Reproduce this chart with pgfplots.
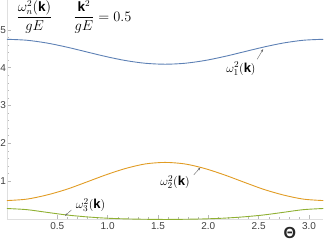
\documentclass[border=0pt]{standalone}
\usepackage{fontspec}
\setmainfont{Liberation Sans}
\usepackage{amsmath}
\usepackage{pgfplots}
\pgfplotsset{compat=1.18}
\usetikzlibrary{arrows.meta}
\definecolor{mblue}{rgb}{0.368417,0.506779,0.709798}
\definecolor{morange}{rgb}{0.880722,0.611041,0.142051}
\definecolor{mgreen}{rgb}{0.560181,0.691569,0.194885}
\begin{document}
\begin{tikzpicture}
\begin{axis}[
  scale only axis,
  width=316.3pt, height=218.7pt,
  xmin=0, xmax=3.14159, ymin=0, ymax=5.79,
  axis lines=left,
  axis line style={-, draw=gray!25},
  tick align=inside,
  major tick length=4pt, minor tick length=2pt,
  tick style={gray!55, line width=0.4pt},
  xtick={0.5,1.0,1.5,2.0,2.5,3.0},
  ytick={1,2,3,4,5},
  minor x tick num=4, minor y tick num=4,
  /pgf/number format/assume math mode=true,
  xticklabel={\pgfmathprintnumber[fixed,fixed zerofill,precision=1]{\tick}},
  ticklabel style={font=\fontsize{10}{11}\selectfont, text=black!75},
  xticklabel style={anchor=north, inner sep=0pt, yshift=-4pt},
  yticklabel style={anchor=east, inner sep=0pt, xshift=-0.8pt},
  clip=false,
]
\addplot[mblue, line width=0.9pt, smooth] coordinates {
(0,4.75) (0.19635,4.725) (0.39270,4.653) (0.58905,4.546) (0.78540,4.42)
(0.98175,4.294) (1.17810,4.187) (1.37445,4.115) (1.57080,4.09)
(1.76715,4.115) (1.96350,4.187) (2.15984,4.294) (2.35619,4.42)
(2.55254,4.546) (2.74889,4.653) (2.94524,4.725) (3.14159,4.75)};
\addplot[morange, line width=0.9pt, smooth] coordinates {
(0,0.48) (0.19635,0.518) (0.39270,0.625) (0.58905,0.775) (0.78540,0.965)
(0.98175,1.16) (1.17810,1.33) (1.37445,1.45) (1.57080,1.49)
(1.76715,1.45) (1.96350,1.33) (2.15984,1.16) (2.35619,0.965)
(2.55254,0.775) (2.74889,0.625) (2.94524,0.518) (3.14159,0.48)};
\addplot[mgreen, line width=0.9pt, smooth] coordinates {
(0,0.27) (0.19635,0.24) (0.39270,0.17) (0.58905,0.10) (0.78540,0.05)
(0.98175,0.015) (1.17810,-0.005) (1.37445,-0.015) (1.57080,-0.02)
(1.76715,-0.015) (1.96350,-0.005) (2.15984,0.015) (2.35619,0.05)
(2.55254,0.10) (2.74889,0.17) (2.94524,0.24) (3.14159,0.27)};
\node[font=\fontsize{13.5}{15}\selectfont, inner sep=0pt] at (axis cs:0.274,5.34) {$\dfrac{\omega_n^2(\mathbf{k})}{gE}$};
\node[font=\fontsize{13.5}{15}\selectfont, inner sep=0pt] at (axis cs:0.949,5.34) {$\dfrac{\mathbf{k}^2}{gE}=0.5$};
\node[font=\fontsize{13}{15}\selectfont, inner sep=0pt] at (axis cs:2.324,3.966) {$\omega_1^2(\mathbf{k})$};
\node[font=\fontsize{13}{15}\selectfont, inner sep=0pt] at (axis cs:1.669,0.972) {$\omega_2^2(\mathbf{k})$};
\node[font=\fontsize{13}{15}\selectfont, inner sep=0pt] at (axis cs:0.830,0.363) {$\omega_3^2(\mathbf{k})$};
\draw[gray!80!black, line width=0.4pt, -{Stealth[length=3pt,width=2.2pt]}] (axis cs:2.485,4.22) -- (axis cs:2.545,4.49);
\draw[gray!80!black, line width=0.4pt, -{Stealth[length=3pt,width=2.2pt]}] (axis cs:1.855,1.16) -- (axis cs:1.92,1.35);
\draw[gray!80!black, line width=0.4pt, -{Stealth[length=3pt,width=2.2pt]}] (axis cs:0.64,0.23) -- (axis cs:0.576,0.075);
\node[font=\fontsize{16}{16}\selectfont\bfseries, inner sep=0pt, text=black!85] at (axis cs:2.81,-0.38) {Θ};
\end{axis}
\pgfresetboundingbox
\path (-6.95pt,-23.3pt) rectangle (317.05pt,218.7pt);
\end{tikzpicture}
\end{document}
